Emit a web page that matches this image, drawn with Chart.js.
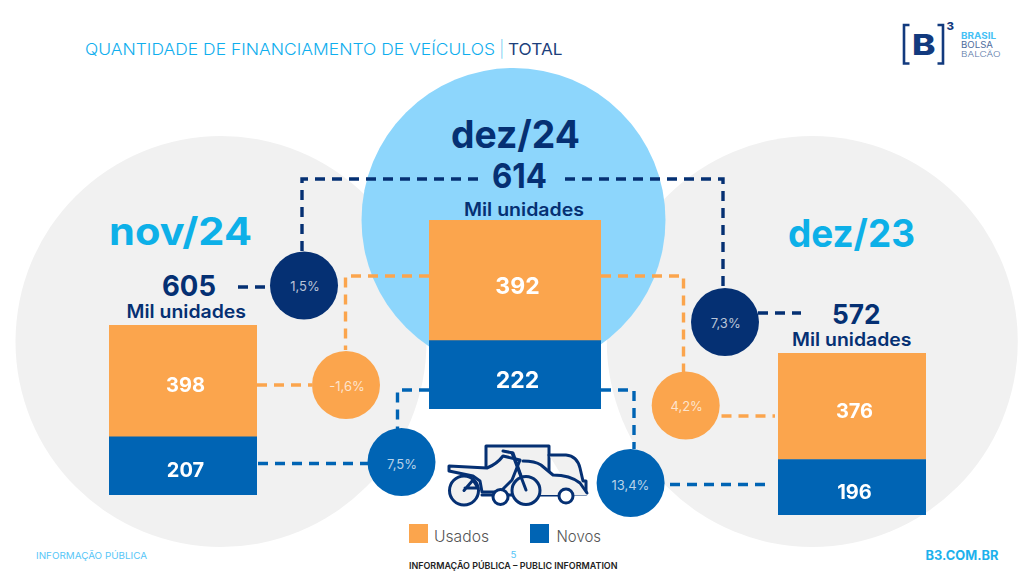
<!DOCTYPE html>
<html lang="pt-BR"><head><meta charset="utf-8">
<style>
html,body{margin:0;padding:0;background:#fff;width:1024px;height:575px;overflow:hidden}
#page{position:relative;width:1024px;height:575px;overflow:hidden}
#bg{position:absolute;left:0;top:0}
.bar{position:absolute;z-index:2}
.bar canvas{display:block}
</style>
<script src="https://cdn.jsdelivr.net/npm/chart.js@4"></script>
</head><body><div id="page"><svg id="bg" width="1024" height="575" xmlns="http://www.w3.org/2000/svg"></svg></div>
<script>
// ---- data ----
const periods   = ['nov/24', 'dez/24', 'dez/23'];
const usados    = [398, 392, 376];
const novos     = [207, 222, 196];
const totais    = [605, 614, 572];
const varTotal  = ['1,5%', '7,3%'];
const varUsados = ['-1,6%', '4,2%'];
const varNovos  = ['7,5%', '13,4%'];
const unidade   = 'Mil unidades';
const legenda   = ['Usados', 'Novos'];

// ---- palette ----
const ORANGE='#FBA54D', BLUE='#0064B4', NAVY='#053073', GRAY='#F1F1F1', SKY='#8DD6FC', CYAN='#0DB0E8';
const FONT='Inter, Lato, sans-serif';

// ---- decoration ----
function t(x1,x2,y,s,size,weight,fill,extra){
  return `<text x="${x1}" y="${y}" textLength="${x2-x1}" lengthAdjust="spacingAndGlyphs" font-family="${FONT}" font-size="${size}" font-weight="${weight}" fill="${fill}" ${extra||''}>${s}</text>`;
}
function dash(d,color){return `<path d="${d}" fill="none" stroke="${color}" stroke-width="3.4" stroke-dasharray="10 7"/>`;}
function dot(cx,cy,color,label,lx,ly){
  return `<circle cx="${cx}" cy="${cy}" r="34" fill="${color}"/>`+
    `<text x="${lx}" y="${ly}" text-anchor="middle" font-family="${FONT}" font-size="13" font-weight="400" fill="#fff" fill-opacity="0.72">${label}</text>`;
}
let s='';
s+=`<circle cx="221" cy="341.5" r="205.5" fill="${GRAY}"/>`;
s+=`<circle cx="812.3" cy="341.5" r="205.5" fill="${GRAY}"/>`;
s+=`<circle cx="513.5" cy="220" r="152" fill="${SKY}"/>`;
// connectors
s+=dash('M302 251V179H478',NAVY)+dash('M565 179H723V289',NAVY);
s+=dash('M238 287H271',NAVY)+dash('M758 313H801',NAVY);
s+=dash('M429 276H345.5V350',ORANGE)+dash('M601 276H683.5V372',ORANGE);
s+=dash('M257 385H312',ORANGE)+dash('M721.5 416H775',ORANGE);
s+=dash('M429 390H397.5V429',BLUE)+dash('M601 390H634V449',BLUE);
s+=dash('M258 463.5H368',BLUE)+dash('M670 484.5H765',BLUE);
// variation bubbles
s+=dot(304,285.5,NAVY,varTotal[0],305,290.5);
s+=dot(346,385,ORANGE,varUsados[0],347,390.5);
s+=dot(401.5,462,BLUE,varNovos[0],402,469);
s+=dot(725,322,NAVY,varTotal[1],725.7,328);
s+=dot(685.7,405.5,ORANGE,varUsados[1],686.7,410.5);
s+=dot(630.6,483,BLUE,varNovos[1],630.4,489.5);
// title
s+=t(85,495,54.5,'QUANTIDADE DE FINANCIAMENTO DE VEÍCULOS',16.5,300,'#0FAEEE');
s+=t(500.5,503,54.5,'|',16.5,400,'#0FAEEE');
s+=t(508,562.5,54.5,'TOTAL',16.5,400,'#1D3F7C');
// period headings and totals
s+=t(109,252,245,periods[0],38,700,CYAN);
s+=t(451,580,147.5,periods[1],38,700,NAVY);
s+=t(788,915,246.5,periods[2],38,700,CYAN);
s+=t(162,216,296,totais[0],29,700,NAVY);
s+=t(492,547,188,totais[1],34,700,NAVY);
s+=t(832,880.5,324,totais[2],27,700,NAVY);
s+=t(126.5,246,317.5,unidade,18,600,NAVY);
s+=t(464,584,215.5,unidade,18,600,NAVY);
s+=t(792,911.5,345.5,unidade,18,600,NAVY);
// legend
s+=`<rect x="409" y="524" width="19" height="19" fill="${ORANGE}"/>`+t(434,489,542,legenda[0],16,300,'#555');
s+=`<rect x="530" y="524" width="19" height="19" fill="${BLUE}"/>`+t(556.5,601,542,legenda[1],16,300,'#555');
// footer
s+=t(36,147,559,'INFORMAÇÃO PÚBLICA',9.5,400,'#56C6F7');
s+=t(510.5,516.5,558,'5',9,400,'#56C6F7');
s+=t(409,617.5,568.5,'INFORMAÇÃO PÚBLICA – PUBLIC INFORMATION',9.5,600,'#222');
s+=t(925.5,998.5,560,'B3.COM.BR',12.5,700,'#1DB1EC');
// logo
s+=`<path d="M909.5 25H904V63.5H909.5M937.5 25H943V63.5H937.5" fill="none" stroke="#123A7E" stroke-width="2.6"/>`;
s+=t(912,935.5,55,'B',29,800,'#123A7E');
s+=t(946.5,954,30,'3',10.5,800,'#123A7E');
s+=t(961,996,39,'BRASIL',8.5,700,'#45C1F5');
s+=t(961,993,48,'BOLSA',8.5,400,'#4F6E9E');
s+=t(961,1000.5,57,'BALCÃO',8,300,'#5B7AA8');
// vehicles icon
s+=`<g fill="none" stroke="${NAVY}" stroke-width="3" stroke-linejoin="round" stroke-linecap="round">
<path d="M486 470V446H549V472" fill="${GRAY}"/>
<path d="M549 455H566Q577 456 580 468L583 481H586V494H573M559 495H540" fill="${GRAY}" />
<path d="M487 468Q497 463 503 456L520 460Q535 460 544 466L553 475Q570 475 580 483L588 493V495H480Z" fill="${GRAY}" stroke="none"/>
<path d="M523 461Q535 461 541 465L553 475Q570 475 580 483L587 493"/>
<path d="M482 495H494M508 495H513"/>
<path d="M449 466L487 468Q497 464 503 456L520 460L512 480L500 492H482L480 481L473 476L449 471Z" fill="${GRAY}"/>
<path d="M503 451L513 453L526 490"/>
<circle cx="464" cy="490.5" r="14.5" fill="${GRAY}"/>
<path d="M464 490.5L473 480L478 488H465"/>
<circle cx="526" cy="490.5" r="14" fill="${GRAY}"/>
<path d="M512 453L526 490"/>
<circle cx="500.5" cy="497" r="7.5" fill="#fff"/>
<circle cx="566" cy="496" r="7" fill="#fff"/>
</g>`;
document.getElementById('bg').innerHTML=s;

// ---- bars (one small stacked chart per period, each with its own scale) ----
const frames=[
 {left:109,top:325,w:148,h:170,size:20,dx:2.5,dy:5},
 {left:429,top:220,w:172,h:189,size:23,dx:2.5,dy:6.5},
 {left:778,top:353,w:148,h:162,size:20,dx:2.5,dy:6}
];
const barLabels={
  id:'barLabels',
  afterDatasetsDraw(chart,_a,o){
    const c=chart.ctx;
    c.save();
    c.fillStyle='#fff';c.textAlign='center';c.textBaseline='middle';
    c.font=`700 ${o.size}px ${FONT}`;
    chart.data.datasets.forEach((d,i)=>{
      const b=chart.getDatasetMeta(i).data[0];
      c.fillText(String(d.data[0]),b.x+o.dx,(b.y+b.base)/2+o.dy);
    });
    c.restore();
  }
};
periods.forEach((p,i)=>{
  const f=frames[i];
  const box=document.createElement('div');
  box.className='bar';
  box.style.cssText=`left:${f.left}px;top:${f.top}px;width:${f.w}px;height:${f.h}px`;
  const cv=document.createElement('canvas');
  cv.width=f.w;cv.height=f.h;
  box.appendChild(cv);
  document.getElementById('page').appendChild(box);
  new Chart(cv,{
    type:'bar',
    data:{labels:[p],datasets:[
      {label:legenda[1],data:[novos[i]],backgroundColor:BLUE,borderWidth:0,stack:'s'},
      {label:legenda[0],data:[usados[i]],backgroundColor:ORANGE,borderWidth:0,stack:'s'}
    ]},
    options:{
      responsive:false,animation:false,devicePixelRatio:1,
      layout:{padding:0},
      datasets:{bar:{barPercentage:1,categoryPercentage:1}},
      scales:{
        x:{stacked:true,display:false},
        y:{stacked:true,display:false,min:0,max:totais[i]}
      },
      plugins:{legend:{display:false},tooltip:{enabled:false},
        barLabels:{size:f.size,dx:f.dx,dy:f.dy}}
    },
    plugins:[barLabels]
  });
});
</script></body></html>
